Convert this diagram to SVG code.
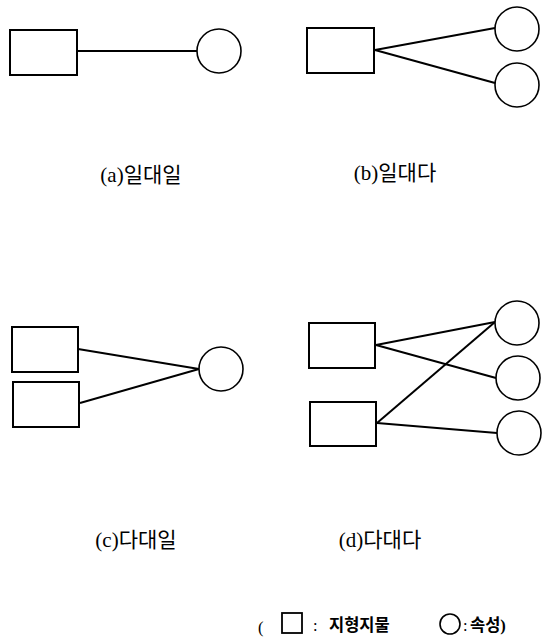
<svg xmlns="http://www.w3.org/2000/svg" width="546" height="639" viewBox="0 0 546 639">
  <style>
    .feat { fill: #fff; stroke: #000; stroke-width: 2; }
    .attr { fill: #fff; stroke: #000; stroke-width: 1.6; }
    .link { stroke: #000; stroke-width: 2; fill: none; }
    .cap { font-family: "Liberation Serif", "Noto Sans CJK KR", serif; font-size: 21px; fill: #000; text-anchor: middle; }
    .key { font-family: "Liberation Serif", "Noto Sans CJK KR", serif; font-size: 16.5px; fill: #000; }
  </style>
  <rect width="546" height="639" fill="#fff"/>

  <!-- connectors -->
  <g id="connectors">
    <line class="link" x1="77" y1="51" x2="197" y2="51"/>
    <line class="link" x1="375" y1="50" x2="495" y2="28"/>
    <line class="link" x1="375" y1="50" x2="495" y2="83"/>
    <line class="link" x1="78" y1="349" x2="199" y2="369"/>
    <line class="link" x1="80" y1="403" x2="199" y2="369"/>
    <line class="link" x1="376" y1="345" x2="495" y2="322"/>
    <line class="link" x1="376" y1="345" x2="496" y2="378"/>
    <line class="link" x1="377" y1="423" x2="495" y2="322"/>
    <line class="link" x1="377" y1="423" x2="497" y2="433"/>
  </g>

  <!-- (a) one-to-one -->
  <g id="a-feature"><rect class="feat" x="10" y="30" width="67" height="45"/></g>
  <g id="a-attr"><circle class="attr" cx="219" cy="51" r="22"/></g>
  <text class="cap" x="141" y="182">(a)일대일</text>

  <!-- (b) one-to-many -->
  <g id="b-feature"><rect class="feat" x="307" y="28" width="67" height="45"/></g>
  <g id="b-attr1"><circle class="attr" cx="517" cy="29" r="22"/></g>
  <g id="b-attr2"><circle class="attr" cx="517" cy="85" r="22"/></g>
  <text class="cap" x="395" y="180">(b)일대다</text>

  <!-- (c) many-to-one -->
  <g id="c-feature1"><rect class="feat" x="12" y="327" width="66" height="45"/></g>
  <g id="c-feature2"><rect class="feat" x="13" y="382" width="66" height="45"/></g>
  <g id="c-attr"><circle class="attr" cx="221" cy="369" r="22"/></g>
  <text class="cap" x="136" y="547">(c)다대일</text>

  <!-- (d) many-to-many -->
  <g id="d-feature1"><rect class="feat" x="309" y="323" width="66" height="45"/></g>
  <g id="d-feature2"><rect class="feat" x="310" y="402" width="66" height="44"/></g>
  <g id="d-attr1"><circle class="attr" cx="517" cy="323" r="22"/></g>
  <g id="d-attr2"><circle class="attr" cx="518" cy="378" r="22"/></g>
  <g id="d-attr3"><circle class="attr" cx="519" cy="433" r="22"/></g>
  <text class="cap" x="380" y="547">(d)다대다</text>

  <!-- legend -->
  <g id="legend">
    <text class="key" x="258" y="633" font-size="18">(</text>
    <rect x="282" y="613" width="20" height="20" fill="#fff" stroke="#000" stroke-width="1.8"/>
    <text class="key" x="313" y="631">:</text>
    <text class="key" x="329" y="631" font-weight="bold">지형지물</text>
    <circle cx="450" cy="624" r="10" fill="#fff" stroke="#000" stroke-width="1.6"/>
    <text class="key" x="463" y="631">:</text>
    <text class="key" x="470" y="631" font-weight="bold">속성)</text>
  </g>
</svg>
